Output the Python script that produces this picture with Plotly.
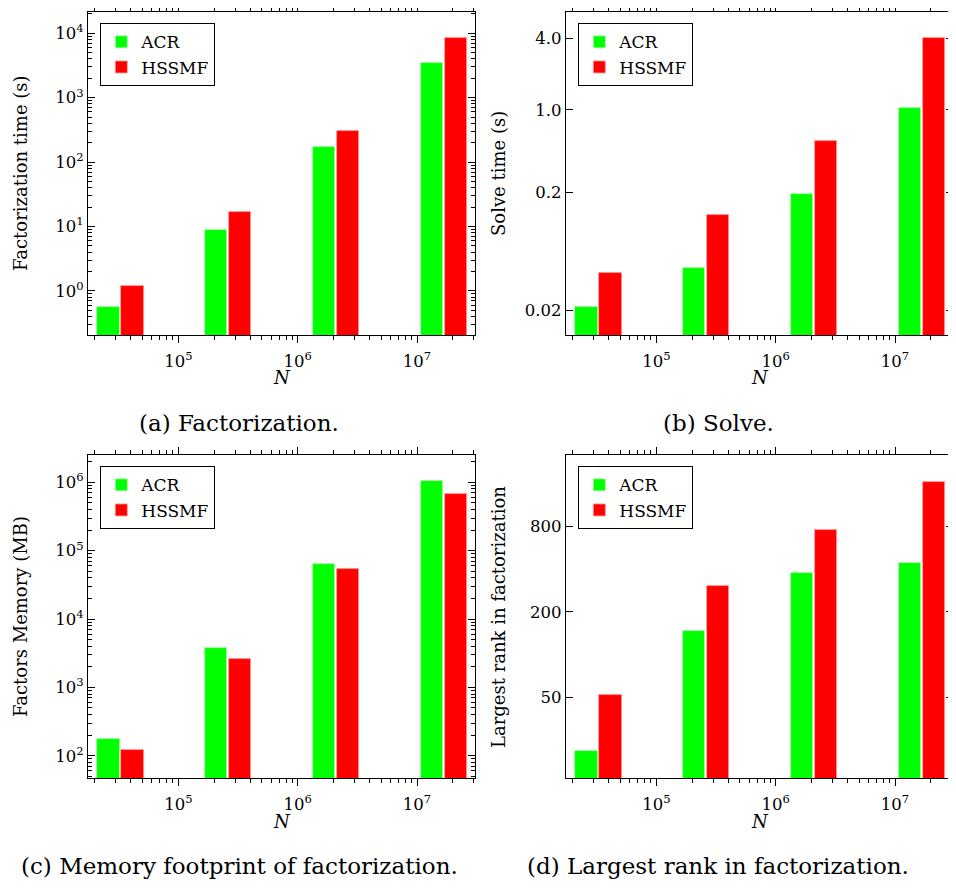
import numpy as np
import plotly.graph_objects as go

# ---------------- data ----------------
N = [32768, 262144, 2097152, 16777216]
series_names = ["ACR", "HSSMF"]
series_colors = ["#00ff00", "#ff0000"]
edge_colors = ["#a8ffa8", "#ff9a9a"]

fact_acr = [0.56, 8.9, 172, 3400]
fact_hss = [1.18, 16.9, 305, 8300]
solve_acr = [0.0213, 0.0458, 0.194, 1.04]
solve_hss = [0.0416, 0.128, 0.539, 4.05]
mem_acr = [175, 3780, 64000, 1.04e6]
mem_hss = [121, 2590, 53500, 6.8e5]
rank_acr = [21, 146, 373, 444]
rank_hss = [52, 304, 747, 1650]

x_tick_exps = [5, 6, 7]
y_titles = ["Factorization time (s)", "Solve time (s)", "Factors Memory (MB)", "Largest rank in factorization"]
captions = ["(a) Factorization.", "(b) Solve.", "(c) Memory footprint of factorization.", "(d) Largest rank in factorization."]

solve_ticks = [0.02, 0.2, 1.0, 4.0]
solve_ticktext = ["0.02", "0.2", "1.0", "4.0"]
rank_ticks = [50, 200, 800]
rank_ticktext = ["50", "200", "800"]

# ---------------- layout geometry ----------------
OFF = 8  # page body margin
W, H = 956 - OFF, 888 - OFF
FONT = "DejaVu Serif"
panels_px = [  # x0, x1, ytop, ybottom in page pixels
    (88, 475, 12, 335),
    (566, 953, 12, 335),
    (88, 475, 455, 778),
    (566, 953, 455, 778),
]
xrange_log = [4.243, 7.486]
yranges = [[-0.683, 4.33], [-1.907, 0.828], [1.674, 6.40], [1.130, 3.405]]

datasets = [
    (fact_acr, fact_hss),
    (solve_acr, solve_hss),
    (mem_acr, mem_hss),
    (rank_acr, rank_hss),
]

logN = np.log10(np.array(N, dtype=float))
bar_w = 0.186
offsets = [-0.193, 0.007]

TICK_SIZE = 16.5
LEG_SIZE = 17
TITLE_SIZE = 18
CAP_SIZE = 23


def px(x):
    return (x - OFF) / W


def py(y):
    return 1 - (y - OFF) / H


fig = go.Figure()

x_minor = [np.log10(k * 10.0 ** d) for d in range(4, 8) for k in range(2, 10)]
x_minor = [v for v in x_minor if xrange_log[0] <= v <= xrange_log[1]]

for i, (acr, hss) in enumerate(datasets):
    sfx = "" if i == 0 else str(i + 1)
    legname = "legend" if i == 0 else f"legend{i+1}"
    for j, vals in enumerate((acr, hss)):
        fig.add_trace(go.Bar(
            x=logN, y=vals, name=series_names[j],
            xaxis="x" + sfx, yaxis="y" + sfx,
            width=bar_w, offset=offsets[j],
            marker=dict(color=series_colors[j], line=dict(color=edge_colors[j], width=0.8)),
            legend=legname, showlegend=True,
        ))

    x0, x1, yt, yb = panels_px[i]
    xd = [px(x0), px(x1)]
    yd = [py(yb), py(yt)]

    xaxis = dict(
        domain=xd, anchor="y" + sfx, range=xrange_log, type="linear",
        showgrid=False, zeroline=False, automargin=False,
        showline=True, linecolor="black", linewidth=1.3, mirror="ticks",
        ticks="outside", ticklen=7, tickwidth=1.1, tickcolor="black",
        tickmode="array", tickvals=x_tick_exps,
        ticktext=[f"10<sup>{e}</sup>" for e in x_tick_exps],
        tickfont=dict(family=FONT, size=TICK_SIZE, color="black"),
        ticklabelstandoff=4,
        minor=dict(tickmode="array", tickvals=x_minor, ticks="outside", ticklen=4,
                   tickwidth=1.1, tickcolor="black", showgrid=False),
        fixedrange=True,
    )
    yr = yranges[i]
    if i in (0, 2):
        lo, hi = int(np.floor(yr[0])), int(np.ceil(yr[1]))
        major = [10.0 ** e for e in range(lo, hi + 1) if yr[0] <= e <= yr[1]]
        ttext = [f"10<sup>{e}</sup>" for e in range(lo, hi + 1) if yr[0] <= e <= yr[1]]
        ymin = [k * 10.0 ** d for d in range(lo, hi + 1) for k in range(2, 10)]
        ymin = [v for v in ymin if yr[0] <= np.log10(v) <= yr[1]]
        minor = dict(tickmode="array", tickvals=ymin, ticks="inside", ticklen=4,
                     tickwidth=1.1, tickcolor="black", showgrid=False)
    elif i == 1:
        major, ttext, minor = solve_ticks, solve_ticktext, None
    else:
        major, ttext, minor = rank_ticks, rank_ticktext, None
    yaxis = dict(
        domain=yd, anchor="x" + sfx, type="log", range=yr,
        showgrid=False, zeroline=False, automargin=False,
        showline=True, linecolor="black", linewidth=1.3, mirror="ticks",
        ticks="inside", ticklen=7, tickwidth=1.1, tickcolor="black",
        tickmode="array", tickvals=major, ticktext=ttext,
        tickfont=dict(family=FONT, size=TICK_SIZE, color="black"),
        fixedrange=True,
    )
    if minor is not None:
        yaxis["minor"] = minor
    fig.update_layout(**{"xaxis" + sfx: xaxis, "yaxis" + sfx: yaxis})

    fig.update_layout(**{legname: dict(
        x=px(x0 + 12), y=py(yt + 11), xanchor="left", yanchor="top",
        bordercolor="black", borderwidth=1.3, bgcolor="white",
        font=dict(family=FONT, size=LEG_SIZE, color="black"),
        tracegroupgap=0, itemclick=False,
    )})

    # y-axis title
    fig.add_annotation(
        x=px(x0 - 80), y=py((yt + yb) / 2), xref="paper", yref="paper",
        text=y_titles[i], textangle=-90, showarrow=False,
        font=dict(family=FONT, size=TITLE_SIZE, color="black"),
        xanchor="left", yanchor="middle",
    )
    # x-axis title
    fig.add_annotation(
        x=px((x0 + x1) / 2), y=py(yb + 43), xref="paper", yref="paper",
        text="<i>N</i>", showarrow=False,
        font=dict(family=FONT, size=TITLE_SIZE, color="black"),
        xanchor="center", yanchor="middle",
    )
    # caption
    cx = 239 if i in (0, 2) else 718
    cy = 423 if i < 2 else 866
    fig.add_annotation(
        x=px(cx), y=py(cy), xref="paper", yref="paper",
        text=captions[i], showarrow=False,
        font=dict(family=FONT, size=CAP_SIZE, color="black"),
        xanchor="center", yanchor="middle",
    )

fig.update_layout(
    width=W, height=H, margin=dict(l=0, r=0, t=0, b=0, autoexpand=False),
    paper_bgcolor="white", plot_bgcolor="white",
    barmode="overlay", bargap=0,
    font=dict(family=FONT, color="black"),
)

fig.write_html("out.html")
